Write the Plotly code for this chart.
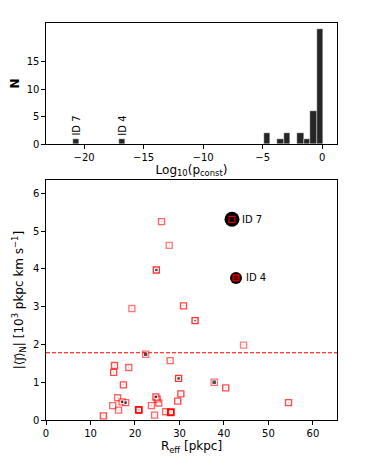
import plotly.graph_objects as go

# ── HISTOGRAM DATA (top panel) ──────────────────
bin_centers = [-20.67, -16.8, -4.63, -3.52, -2.95, -1.84, -1.29, -0.74, -0.19]
bin_counts  = [1, 1, 2, 1, 2, 2, 1, 6, 21]
bin_width   = 0.54
hist_labels = ["ID 7", "ID 4"]
hist_label_x = [-20.67, -16.8]

# ── SCATTER DATA (bottom panel) ─────────────────
r_eff = [25.96, 27.7, 24.8, 19.3, 30.9, 33.5, 22.4, 27.9, 15.4, 15.2,
         18.6, 29.8, 17.4, 30.3, 16.1, 24.7, 17.1, 17.9, 25.35, 29.6,
         15.0, 23.7, 16.3, 20.8, 26.9, 28.1, 12.9, 24.4, 44.4, 37.8,
         40.4, 54.5, 20.9, 28.0, 25.0]
j_mean = [5.25, 4.62, 3.97, 2.95, 3.02, 2.63, 1.74, 1.57, 1.44, 1.26,
          1.39, 1.10, 0.93, 0.69, 0.59, 0.61, 0.48, 0.46, 0.45, 0.50,
          0.38, 0.38, 0.26, 0.27, 0.22, 0.21, 0.11, 0.13, 1.98, 1.00,
          0.85, 0.46, 0.26, 0.20, 0.55]
dot_size = [1.5, 1.5, 3.5, 1.5, 1.5, 2.5, 4.5, 1.5, 1.5, 1.5,
            1.5, 3.5, 1.5, 1.5, 1.5, 3.5, 3.5, 3.5, 1.5, 1.5,
            1.5, 1.5, 1.5, 2.5, 1.5, 1.5, 1.5, 1.5, 1.5, 4.5,
            1.5, 1.5, 1.5, 1.5, 1.5]
sq_alpha = [0.6, 0.5, 0.8, 0.5, 0.7, 0.8, 0.6, 0.6, 0.7, 0.7,
            0.6, 0.8, 0.7, 0.7, 0.6, 0.7, 0.6, 0.6, 0.6, 0.7,
            0.6, 0.6, 0.6, 0.9, 0.6, 0.9, 0.7, 0.6, 0.5, 0.6,
            0.7, 0.7, 0.9, 0.9, 0.6]

id_names = ["ID 7", "ID 4"]
id_r     = [41.8, 42.7]
id_j     = [5.31, 3.76]
id_size  = [15, 12]
threshold = 1.78

FONT = "DejaVu Sans"

fig = go.Figure()

# ── TOP: HISTOGRAM ──────────────────────────────
fig.add_trace(go.Bar(x=bin_centers, y=bin_counts, width=bin_width,
                     marker=dict(color="#262626", line=dict(color="white", width=0.4)),
                     xaxis="x", yaxis="y", showlegend=False))

for lab, lx in zip(hist_labels, hist_label_x):
    fig.add_annotation(x=lx, y=1.2, xref="x", yref="y", text=lab, textangle=-90,
                       showarrow=False, yanchor="bottom", xanchor="center",
                       font=dict(family=FONT, size=10, color="black"))

# ── BOTTOM: SCATTER ─────────────────────────────
fig.add_trace(go.Scatter(x=id_r, y=id_j, mode="markers",
                         marker=dict(symbol="circle", size=id_size, color="black", opacity=1,
                                     line=dict(width=0)),
                         xaxis="x2", yaxis="y2", showlegend=False))
fig.add_trace(go.Scatter(x=id_r, y=id_j, mode="markers",
                         marker=dict(symbol="square", size=[6, 6], color=["black", "#6a0000"],
                                     opacity=1, line=dict(color="#e00000", width=1.2)),
                         xaxis="x2", yaxis="y2", showlegend=False))
for name, rx, jy in zip(id_names, id_r, id_j):
    fig.add_annotation(x=rx, y=jy, xref="x2", yref="y2", text=name, showarrow=False,
                       xanchor="left", xshift=8, font=dict(family=FONT, size=10, color="black"))

fig.add_trace(go.Scatter(x=r_eff, y=j_mean, mode="markers",
                         marker=dict(symbol="square-open", size=6,
                                     color=[f"rgba(255,0,0,{a})" for a in sq_alpha],
                                     line=dict(width=1.4)),
                         xaxis="x2", yaxis="y2", showlegend=False))
fig.add_trace(go.Scatter(x=r_eff, y=j_mean, mode="markers",
                         marker=dict(symbol="square", size=dot_size, color="black"),
                         xaxis="x2", yaxis="y2", showlegend=False))

fig.add_shape(type="line", xref="x2 domain", yref="y2", x0=0, x1=1, y0=threshold, y1=threshold,
              line=dict(color="red", width=1.1, dash="4px,2px"))

# ── LAYOUT ──────────────────────────────────────
axis_common = dict(showline=True, linecolor="black", linewidth=1.2, mirror=True,
                   ticks="outside", ticklen=3.5, tickcolor="black", showgrid=False,
                   zeroline=False, automargin=False,
                   tickfont=dict(family=FONT, size=10, color="black"))

# page body keeps its default 8px margin, so the figure is 8px smaller
fig.update_layout(
    width=366, height=459,
    margin=dict(l=38, r=37, t=15, b=47),
    paper_bgcolor="white", plot_bgcolor="white",
    font=dict(family=FONT, color="black"),
    bargap=0,
    xaxis=dict(domain=[0, 1], anchor="y", range=[-23.2, 1.24], tickvals=[-20, -15, -10, -5, 0],
               ticktext=["−20", "−15", "−10", "−5", "0"],
               title=dict(text="Log<sub>10</sub>(p<sub>const</sub>)", font=dict(family=FONT, size=12),
                          standoff=2), **axis_common),
    yaxis=dict(domain=[0.695, 1.0], anchor="x", range=[0, 22.05], tickvals=[0, 5, 10, 15],
               title=dict(text="<b>N</b>", font=dict(family=FONT, size=12), standoff=6), **axis_common),
    xaxis2=dict(domain=[0, 1], anchor="y2", range=[0, 65.4], tickvals=[0, 10, 20, 30, 40, 50, 60],
                title=dict(text="R<sub>eff</sub> [pkpc]", font=dict(family=FONT, size=12), standoff=4),
                **axis_common),
    yaxis2=dict(domain=[0, 0.6045], anchor="x2", range=[0, 6.35], tickvals=[0, 1, 2, 3, 4, 5, 6],
                title=dict(text="|⟨j⃗⟩<sub>N</sub>| [10<sup>3</sup> pkpc km s<sup>−1</sup>]",
                           font=dict(family=FONT, size=12), standoff=6), **axis_common),
)

fig.write_html("out.html")
